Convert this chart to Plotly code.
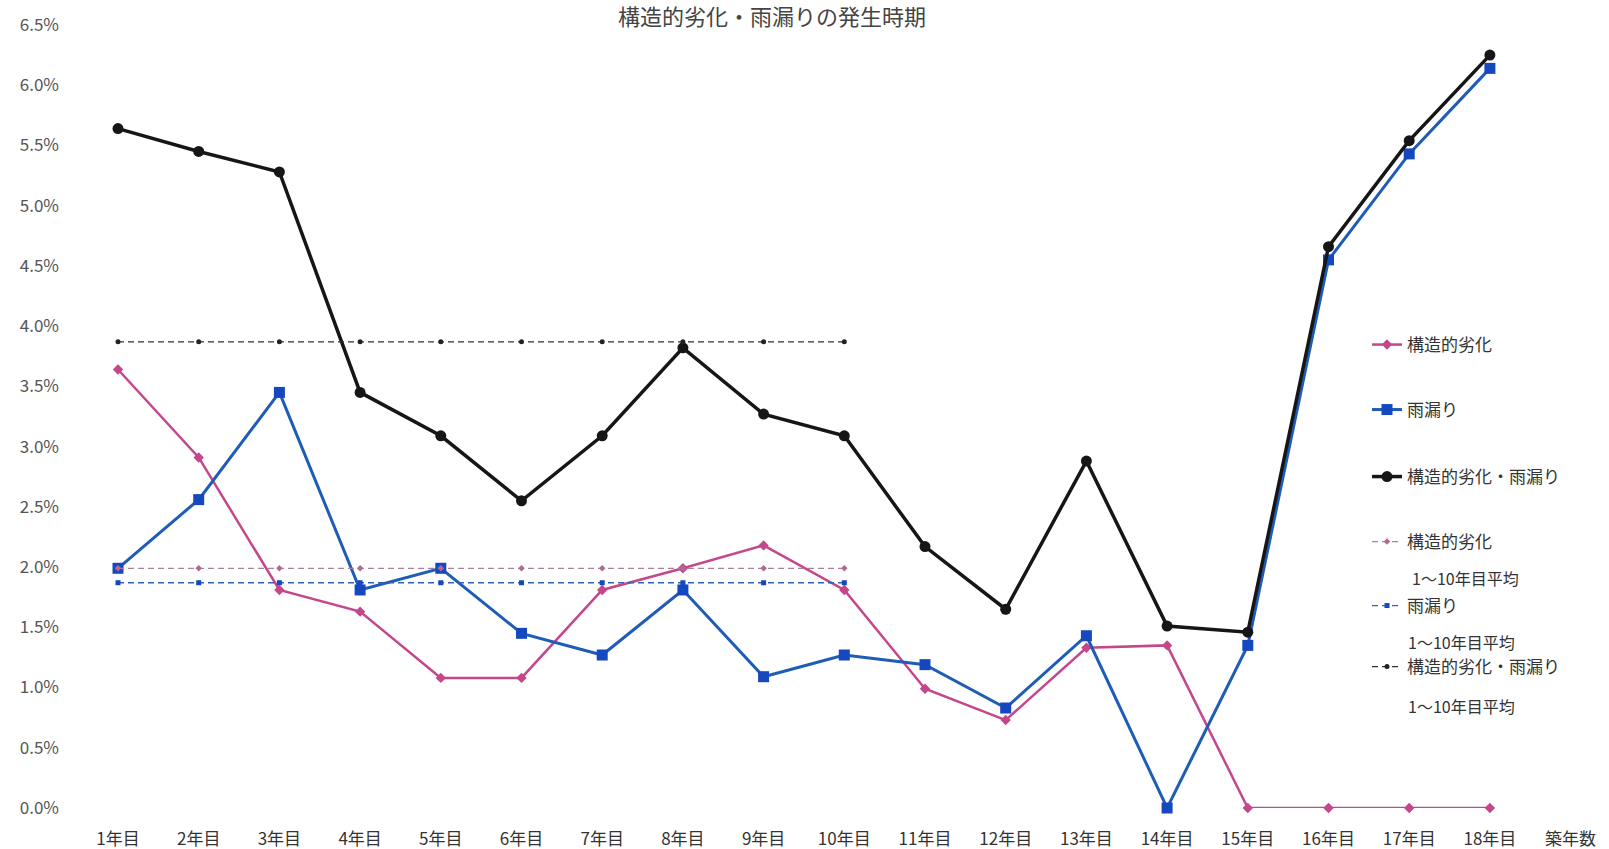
import plotly.graph_objects as go

# ---- data ----
years = list(range(1, 19))
x_tick_vals = list(range(1, 20))
x_tick_text = ["1年目", "2年目", "3年目", "4年目", "5年目", "6年目", "7年目", "8年目", "9年目",
               "10年目", "11年目", "12年目", "13年目", "14年目", "15年目", "16年目", "17年目", "18年目", "築年数"]

structural = [3.64, 2.91, 1.81, 1.63, 1.08, 1.08, 1.81, 1.99, 2.18, 1.81,
              0.99, 0.73, 1.33, 1.35, 0.0, 0.0, 0.0, 0.0]
leak = [1.99, 2.56, 3.45, 1.81, 1.99, 1.45, 1.27, 1.81, 1.09, 1.27,
        1.19, 0.83, 1.43, 0.0, 1.35, 4.55, 5.43, 6.14]
both = [5.64, 5.45, 5.28, 3.45, 3.09, 2.55, 3.09, 3.82, 3.27, 3.09,
        2.17, 1.65, 2.88, 1.51, 1.46, 4.66, 5.54, 6.25]

avg_years = list(range(1, 11))
structural_avg = [1.99] * 10
leak_avg = [1.87] * 10
both_avg = [3.87] * 10

y_tick_vals = [0.0, 0.5, 1.0, 1.5, 2.0, 2.5, 3.0, 3.5, 4.0, 4.5, 5.0, 5.5, 6.0, 6.5]
y_tick_text = ["0.0%", "0.5%", "1.0%", "1.5%", "2.0%", "2.5%", "3.0%", "3.5%", "4.0%",
               "4.5%", "5.0%", "5.5%", "6.0%", "6.5%"]

title_text = "構造的劣化・雨漏りの発生時期"
names = ["構造的劣化", "雨漏り", "構造的劣化・雨漏り"]
avg_suffix = "1～10年目平均"

# ---- styling ----
FONT = "Noto Sans CJK JP"
PINK = "#C4478B"
BLUE = "#1E5CB8"
BLUE_M = "#1548BE"
BLACK = "#161616"

W, H = 1609, 849
ML, MR, MT, MB = 60, 0, 25, 41
PW, PH = W - ML - MR, H - MT - MB


def px_to_paper(px, py):
    return (px - ML) / PW, (H - MB - py) / PH


fig = go.Figure()

fig.add_trace(go.Scatter(x=years, y=structural, name=names[0], mode="lines+markers",
                         line=dict(color=PINK, width=2.5),
                         marker=dict(symbol="diamond", size=8, color=PINK),
                         cliponaxis=False, legend="legend"))
fig.add_trace(go.Scatter(x=years, y=leak, name=names[1], mode="lines+markers",
                         line=dict(color=BLUE, width=3),
                         marker=dict(symbol="square", size=11, color=BLUE_M),
                         cliponaxis=False, legend="legend2"))
fig.add_trace(go.Scatter(x=years, y=both, name=names[2], mode="lines+markers",
                         line=dict(color=BLACK, width=3.5),
                         marker=dict(symbol="circle", size=11, color=BLACK),
                         cliponaxis=False, legend="legend3"))
fig.add_trace(go.Scatter(x=avg_years, y=structural_avg, name=names[0], mode="lines+markers",
                         line=dict(color="#A8809A", width=1.3, dash="6px,4px"),
                         marker=dict(symbol="diamond", size=5, color="#B06A92"),
                         cliponaxis=False, legend="legend4"))
fig.add_trace(go.Scatter(x=avg_years, y=leak_avg, name=names[1], mode="lines+markers",
                         line=dict(color="#2F62B5", width=1.3, dash="6px,4px"),
                         marker=dict(symbol="square", size=5, color=BLUE_M),
                         cliponaxis=False, legend="legend5"))
fig.add_trace(go.Scatter(x=avg_years, y=both_avg, name=names[2], mode="lines+markers",
                         line=dict(color="#333333", width=1.3, dash="6px,4px"),
                         marker=dict(symbol="circle", size=5, color="#222222"),
                         cliponaxis=False, legend="legend6"))

legend_rows = [345, 410, 477, 542, 606, 667]
legend_text_x = 1407
legend_font = dict(family=FONT, size=17, color="#333333")
ann_font = dict(family=FONT, size=16, color="#333333")
legends = {}
for i, py in enumerate(legend_rows):
    lx, ly = px_to_paper(legend_text_x - 40, py)
    key = "legend" if i == 0 else f"legend{i + 1}"
    legends[key] = dict(x=lx, y=ly, xanchor="left", yanchor="middle",
                        bgcolor="rgba(0,0,0,0)", borderwidth=0,
                        font=legend_font, valign="middle", itemwidth=30)

annotations = []
for py, px in [(578, 1410), (642, 1406), (706, 1406)]:
    ax, ay = px_to_paper(px, py)
    annotations.append(dict(x=ax, y=ay, xref="paper", yref="paper", text=avg_suffix,
                            showarrow=False, xanchor="left", yanchor="middle",
                            font=ann_font))

fig.update_layout(
    width=W, height=H,
    margin=dict(l=ML, r=MR, t=MT, b=MB),
    paper_bgcolor="white", plot_bgcolor="white",
    showlegend=True,
    title=dict(text=title_text, x=772 / W, xanchor="center", y=1 - 17 / H, yanchor="middle",
               yref="container", xref="container",
               font=dict(family=FONT, size=22, color="#444444")),
    xaxis=dict(range=[1 - (118 - ML) / 80.7, 1 + (W - MR - 118) / 80.7],
               tickmode="array", tickvals=x_tick_vals, ticktext=x_tick_text,
               showgrid=False, zeroline=False, showline=False, ticks="",
               ticklabelstandoff=19, automargin=False,
               tickfont=dict(family=FONT, size=17, color="#333333")),
    yaxis=dict(range=[0, 6.5], tickmode="array", tickvals=y_tick_vals, ticktext=y_tick_text,
               showgrid=False, zeroline=False, showline=False, ticks="",
               automargin=False,
               tickfont=dict(family=FONT, size=17, color="#555555")),
    annotations=annotations,
    **legends,
)

fig.write_html("out.html")
